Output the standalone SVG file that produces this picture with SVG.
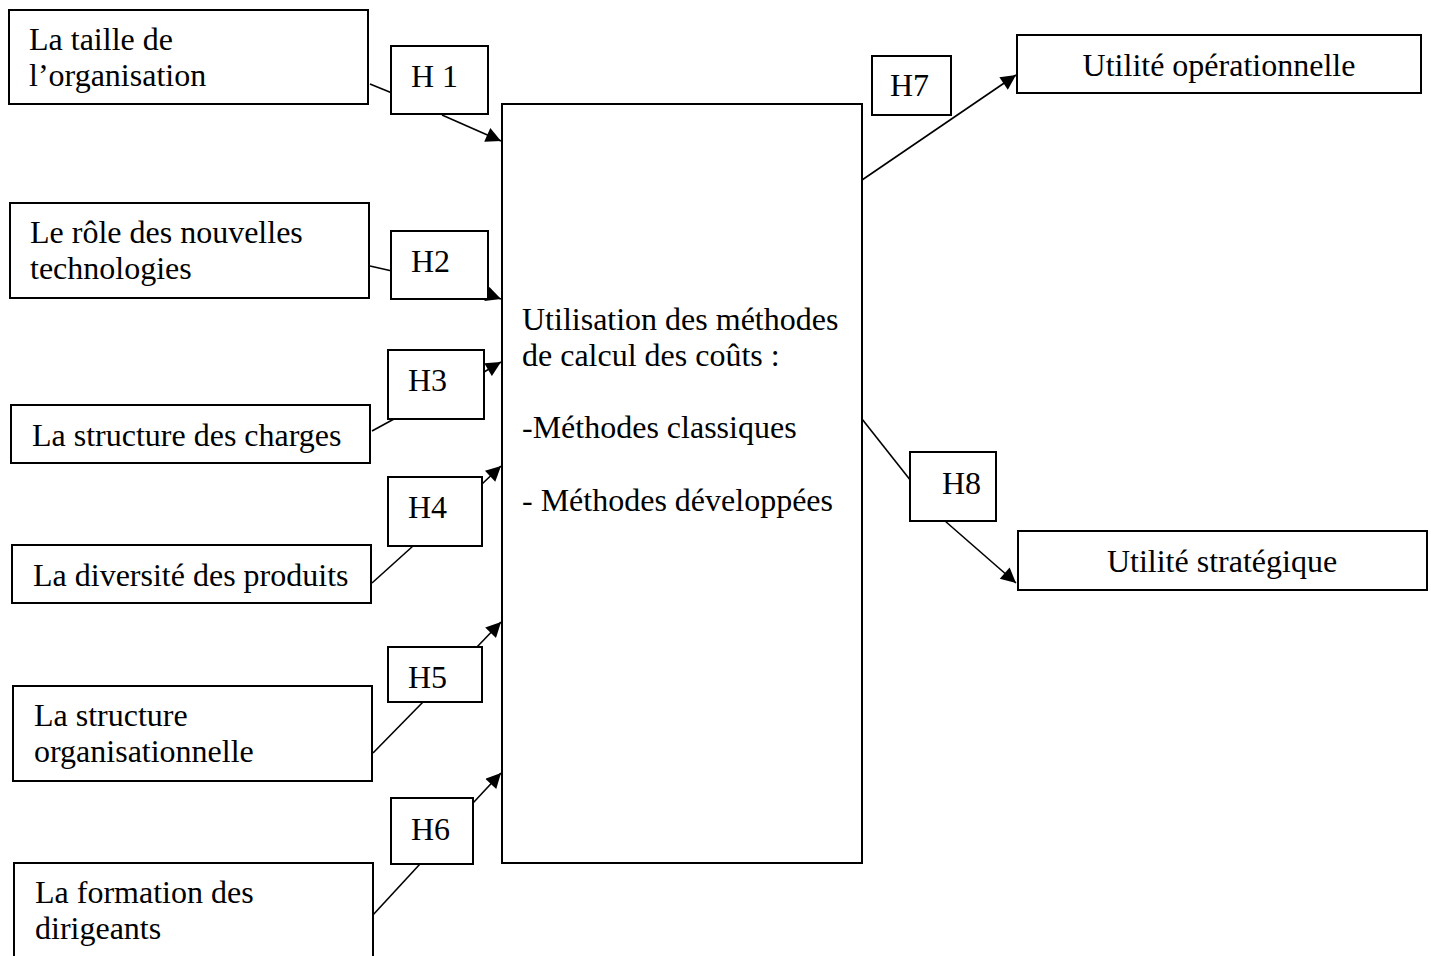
<svg xmlns="http://www.w3.org/2000/svg" width="1431" height="956" viewBox="0 0 1431 956">
<defs>
<style>
.b{fill:#fff;stroke:#000;stroke-width:2}
.t{font-family:"Liberation Serif","Times New Roman",serif;font-size:32px;fill:#000}
.c{stroke:#000;stroke-width:1.6;fill:none}
</style>
<marker id="ah2" viewBox="0 0 10 10" refX="10" refY="5" markerWidth="17" markerHeight="15" markerUnits="userSpaceOnUse" orient="auto">
<path d="M0,0 L10,5 L0,10 z" fill="#000"/>
</marker>
</defs>
<g id="connectors">
<line class="c" x1="370" y1="84" x2="392" y2="93"/>
<line class="c" x1="442" y1="115" x2="501" y2="141" marker-end="url(#ah2)"/>
<line class="c" x1="370" y1="266" x2="392" y2="271"/>
<line class="c" x1="470" y1="288" x2="501" y2="299" marker-end="url(#ah2)"/>
<line class="c" x1="372" y1="431" x2="394" y2="419"/>
<line class="c" x1="484" y1="372" x2="501" y2="362" marker-end="url(#ah2)"/>
<line class="c" x1="372" y1="583" x2="413" y2="546"/>
<line class="c" x1="482" y1="484" x2="501" y2="466" marker-end="url(#ah2)"/>
<line class="c" x1="373" y1="753" x2="423" y2="702"/>
<line class="c" x1="476" y1="648" x2="501" y2="622" marker-end="url(#ah2)"/>
<line class="c" x1="372" y1="916" x2="420" y2="864"/>
<line class="c" x1="473" y1="803" x2="501" y2="773" marker-end="url(#ah2)"/>
<line class="c" x1="862" y1="180" x2="1016" y2="75" marker-end="url(#ah2)"/>
<line class="c" x1="862" y1="419" x2="911" y2="481"/>
<line class="c" x1="945" y1="521" x2="1016" y2="583" marker-end="url(#ah2)"/>
</g>
<g id="main"><rect class="b" x="502" y="104" width="360" height="759"/>
<text class="t" x="522" y="330">Utilisation des méthodes</text>
<text class="t" x="522" y="366">de calcul des coûts :</text>
<text class="t" x="522" y="438">-Méthodes classiques</text>
<text class="t" x="522" y="511">- Méthodes développées</text></g>
<g id="n1"><rect class="b" x="9" y="10" width="359" height="94"/>
<text class="t" x="29" y="50">La taille de</text><text class="t" x="29" y="86">l’organisation</text></g>
<g id="n2"><rect class="b" x="10" y="203" width="359" height="95"/>
<text class="t" x="30" y="243">Le rôle des nouvelles</text><text class="t" x="30" y="279">technologies</text></g>
<g id="n3"><rect class="b" x="11" y="405" width="359" height="58"/>
<text class="t" x="32" y="446">La structure des charges</text></g>
<g id="n4"><rect class="b" x="12" y="545" width="359" height="58"/>
<text class="t" x="33" y="586">La diversité des produits</text></g>
<g id="n5"><rect class="b" x="13" y="686" width="359" height="95"/>
<text class="t" x="34" y="726">La structure</text><text class="t" x="34" y="762">organisationnelle</text></g>
<g id="n6"><rect class="b" x="14" y="863" width="359" height="100"/>
<text class="t" x="35" y="903">La formation des</text><text class="t" x="35" y="939">dirigeants</text></g>
<g id="h1"><rect class="b" x="391" y="46" width="97" height="68"/><text class="t" x="411" y="87">H 1</text></g>
<g id="h2"><rect class="b" x="391" y="231" width="97" height="68"/><text class="t" x="411" y="272">H2</text></g>
<g id="h3"><rect class="b" x="388" y="350" width="96" height="69"/><text class="t" x="408" y="391">H3</text></g>
<g id="h4"><rect class="b" x="388" y="477" width="94" height="69"/><text class="t" x="408" y="518">H4</text></g>
<g id="h5"><rect class="b" x="388" y="647" width="94" height="55"/><text class="t" x="408" y="688">H5</text></g>
<g id="h6"><rect class="b" x="391" y="798" width="82" height="66"/><text class="t" x="411" y="840">H6</text></g>
<g id="h7"><rect class="b" x="872" y="56" width="79" height="59"/><text class="t" x="890" y="96">H7</text></g>
<g id="h8"><rect class="b" x="910" y="452" width="86" height="69"/><text class="t" x="942" y="494">H8</text></g>
<g id="o1"><rect class="b" x="1017" y="35" width="404" height="58"/>
<text class="t" x="1219" y="76" text-anchor="middle">Utilité opérationnelle</text></g>
<g id="o2"><rect class="b" x="1018" y="531" width="409" height="59"/>
<text class="t" x="1222" y="572" text-anchor="middle">Utilité stratégique</text></g>
</svg>
